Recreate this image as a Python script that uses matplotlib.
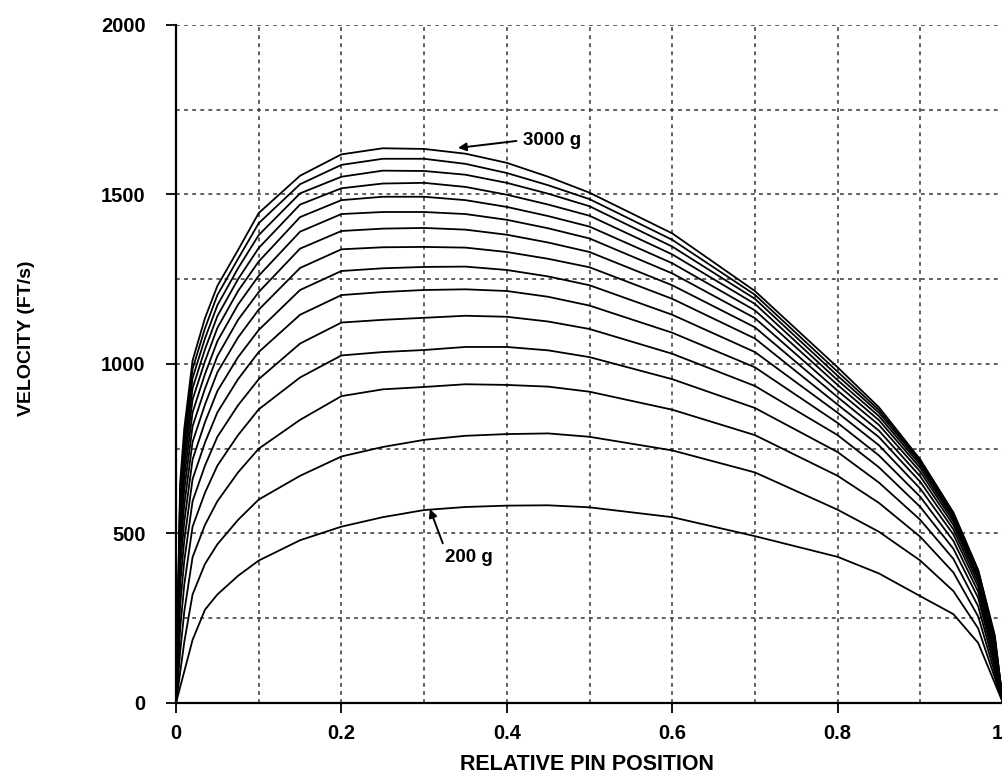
import matplotlib.pyplot as plt
from matplotlib.ticker import MultipleLocator, FixedLocator

plt.rcParams['font.family'] = ['Liberation Sans', 'DejaVu Sans']
plt.rcParams['font.weight'] = 'bold'

# relative pin position of each reading
pos = [0, 0.005, 0.01, 0.02, 0.035, 0.05, 0.075, 0.1, 0.15, 0.2, 0.25, 0.3, 0.35,
       0.4, 0.45, 0.5, 0.6, 0.7, 0.8, 0.85, 0.9, 0.94, 0.97, 0.99, 1.0]

# velocity (ft/s) for each mass, 200 g to 3000 g
v200 = [0, 47, 93, 186, 275, 320, 375, 420, 480, 520, 548, 569, 578, 582, 583, 577, 548, 492, 431, 382, 315, 262, 177, 59, 0]
v400 = [0, 90, 180, 320, 410, 468, 540, 600, 670, 727, 755, 776, 788, 793, 795, 785, 745, 680, 570, 505, 420, 330, 220, 75, 0]
v600 = [0, 150, 270, 430, 525, 595, 680, 750, 835, 905, 925, 932, 940, 938, 933, 918, 865, 790, 670, 590, 490, 385, 255, 90, 0]
v800 = [0, 220, 350, 520, 620, 700, 790, 866, 960, 1025, 1035, 1041, 1050, 1050, 1040, 1020, 955, 870, 740, 650, 540, 425, 285, 105, 0]
v1000 = [0, 290, 420, 595, 700, 785, 878, 955, 1060, 1122, 1130, 1136, 1142, 1139, 1125, 1103, 1030, 935, 790, 695, 578, 455, 310, 118, 0]
v1200 = [0, 350, 480, 660, 768, 857, 955, 1035, 1145, 1203, 1212, 1218, 1220, 1215, 1198, 1172, 1092, 990, 826, 730, 608, 478, 328, 130, 0]
v1400 = [0, 400, 535, 718, 828, 920, 1020, 1100, 1218, 1274, 1282, 1286, 1287, 1277, 1258, 1232, 1145, 1035, 856, 760, 632, 497, 343, 140, 0]
v1600 = [0, 445, 585, 770, 880, 975, 1078, 1160, 1283, 1338, 1344, 1345, 1343, 1330, 1310, 1285, 1192, 1075, 880, 784, 652, 512, 355, 150, 0]
v1800 = [0, 485, 630, 816, 927, 1023, 1130, 1212, 1340, 1392, 1399, 1401, 1396, 1381, 1358, 1330, 1232, 1108, 902, 803, 668, 525, 365, 160, 0]
v2000 = [0, 520, 668, 857, 970, 1067, 1175, 1260, 1390, 1442, 1448, 1448, 1442, 1425, 1400, 1370, 1267, 1135, 921, 820, 682, 535, 372, 168, 0]
v2200 = [0, 550, 702, 895, 1008, 1106, 1215, 1302, 1433, 1483, 1493, 1493, 1483, 1463, 1436, 1405, 1297, 1158, 938, 834, 693, 543, 378, 176, 0]
v2400 = [0, 578, 733, 928, 1043, 1141, 1250, 1342, 1470, 1518, 1532, 1534, 1522, 1499, 1470, 1437, 1323, 1177, 952, 846, 702, 550, 383, 183, 0]
v2600 = [0, 603, 760, 958, 1075, 1173, 1282, 1380, 1503, 1552, 1570, 1569, 1558, 1534, 1502, 1465, 1346, 1192, 965, 856, 709, 555, 387, 190, 0]
v2800 = [0, 627, 785, 985, 1105, 1203, 1310, 1415, 1530, 1587, 1605, 1605, 1590, 1563, 1527, 1486, 1366, 1204, 977, 864, 714, 559, 390, 196, 0]
v3000 = [0, 650, 810, 1010, 1135, 1230, 1336, 1445, 1555, 1618, 1636, 1634, 1620, 1593, 1552, 1505, 1385, 1215, 990, 872, 718, 562, 392, 200, 0]

curves = [v200, v400, v600, v800, v1000, v1200, v1400, v1600,
          v1800, v2000, v2200, v2400, v2600, v2800, v3000]

xticks = [0, 0.2, 0.4, 0.6, 0.8, 1]
xticklabels = ['0', '0.2', '0.4', '0.6', '0.8', '1']
yticks = [0, 500, 1000, 1500, 2000]

fig = plt.figure(figsize=(10.03, 7.79), dpi=100)
ax = fig.add_axes([0.1755, 0.0976, 0.8245, 0.8705])

for v in curves:
    ax.plot(pos, v, color='black', lw=1.3, solid_joinstyle='round')

ax.set_xlim(0, 1)
ax.set_ylim(0, 2000)
ax.xaxis.set_major_locator(FixedLocator(xticks))
ax.set_xticklabels(xticklabels)
ax.xaxis.set_minor_locator(MultipleLocator(0.1))
ax.yaxis.set_major_locator(FixedLocator(yticks))
ax.yaxis.set_minor_locator(MultipleLocator(250))

ax.grid(True, which='both', color='0.2', lw=1.1, linestyle=(0, (2.5, 2.8)))
ax.xaxis.get_gridlines()[-1].set_visible(False)
ax.set_axisbelow(True)

for side in ['top', 'right']:
    ax.spines[side].set_visible(False)
for side in ['left', 'bottom']:
    ax.spines[side].set_linewidth(1.6)

ax.tick_params(which='major', length=7, width=1.3, labelsize=14.5, pad=8)
ax.tick_params(axis='y', which='major', pad=15)
ax.tick_params(which='minor', length=0)
# the last x label sits on the figure edge; keep it inside
ax.get_xticklabels()[-1].set_horizontalalignment('right')

ax.annotate('3000 g', xy=(0.341, 1637), xytext=(0.42, 1660),
            fontsize=13.5, ha='left', va='center',
            arrowprops=dict(arrowstyle='-|>', color='black', lw=1.4,
                            mutation_scale=12, relpos=(0, 0.5), shrinkA=3, shrinkB=0))
ax.annotate('200 g', xy=(0.307, 572), xytext=(0.325, 430),
            fontsize=13.5, ha='left', va='center',
            arrowprops=dict(arrowstyle='-|>', color='black', lw=1.4,
                            mutation_scale=12, relpos=(0, 1), shrinkA=2, shrinkB=0))

fig.text(0.585, 0.018, 'RELATIVE PIN POSITION', fontsize=15.5, ha='center', va='center')
fig.text(0.026, 0.566, 'VELOCITY (FT/s)', fontsize=14, rotation=90, ha='center', va='center')

fig.savefig('out.png', dpi=100)
